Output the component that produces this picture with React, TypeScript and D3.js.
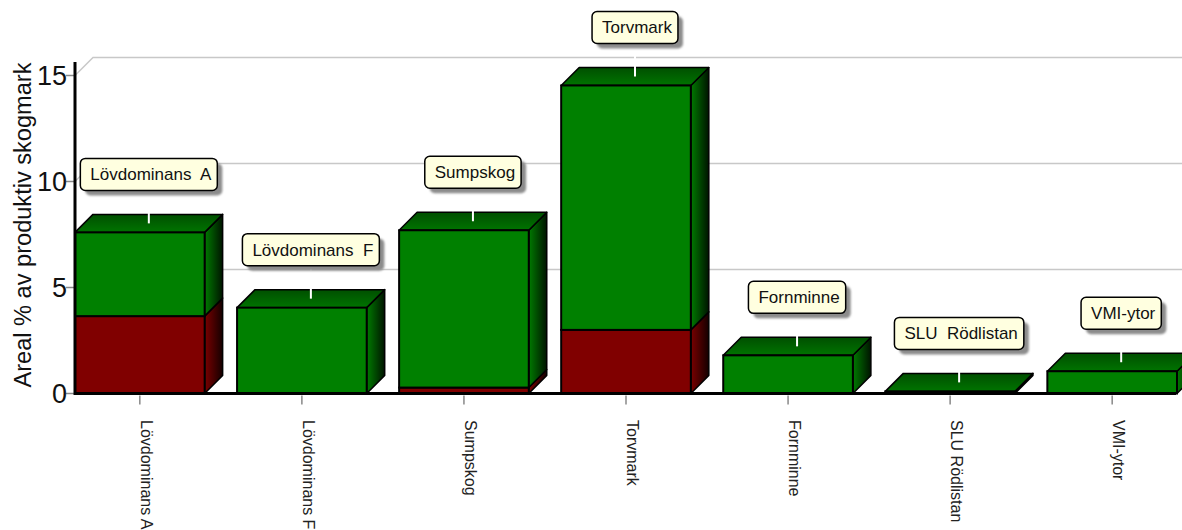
import React, { useEffect, useRef } from "react";
import * as d3 from "d3";

// categories and values
const categories = ["Lövdominans A", "Lövdominans F", "Sumpskog", "Torvmark", "Fornminne", "SLU Rödlistan", "VMI-ytor"];
const boxLabels = ["Lövdominans  A", "Lövdominans  F", "Sumpskog", "Torvmark", "Fornminne", "SLU  Rödlistan", "VMI-ytor"];
const redValues = [3.65, 0, 0.28, 3.0, 0, 0, 0];
const greenValues = [3.95, 4.05, 7.42, 11.53, 1.8, 0.1, 1.05];
const yTicks = [0, 5, 10, 15];

const App = () => {
  const ref = useRef<SVGSVGElement>(null);

  useEffect(() => {
    const svg = d3.select(ref.current);
    svg.selectAll("*").remove();

    const width = 1182;
    const depth = 18;
    const left = 75;

    const x = d3.scaleBand<string>().domain(categories).range([left, 1177]).paddingInner(0.2).paddingOuter(0);
    const y = d3.scaleLinear().domain([0, 15]).range([393.5, 75.5]);

    // gradients for the 3d faces
    const defs = svg.append("defs");
    const sideGrad = (id: string, from: string, to: string) => {
      const g = defs.append("linearGradient").attr("id", id).attr("x1", "0").attr("x2", "1").attr("y1", "0").attr("y2", "0");
      g.append("stop").attr("offset", "0").attr("stop-color", from);
      g.append("stop").attr("offset", "1").attr("stop-color", to);
    };
    sideGrad("sideGreen", "#007a00", "#001400");
    sideGrad("sideRed", "#7a0000", "#140000");
    const tg = defs.append("linearGradient").attr("id", "topGreen").attr("x1", "0").attr("x2", "0").attr("y1", "0").attr("y2", "1");
    tg.append("stop").attr("offset", "0").attr("stop-color", "#004f00");
    tg.append("stop").attr("offset", "1").attr("stop-color", "#007400");

    const shadow = defs.append("filter").attr("id", "blur").attr("x", "-10%").attr("y", "-10%").attr("width", "130%").attr("height", "140%");
    shadow.append("feGaussianBlur").attr("stdDeviation", 1);

    // back wall gridlines
    const grid = svg.append("g");
    yTicks.filter((t) => t > 0).forEach((t) => {
      grid.append("path")
        .attr("d", `M${left},${y(t)} L${left + depth},${y(t) - depth} L${width},${y(t) - depth}`)
        .attr("fill", "none")
        .attr("stroke", "#c8c8c8")
        .attr("stroke-width", 1.5);
    });

    // y axis ticks + labels
    const yAxis = svg.append("g");
    yTicks.forEach((t) => {
      yAxis.append("line")
        .attr("x1", left - 9).attr("x2", left).attr("y1", y(t)).attr("y2", y(t))
        .attr("stroke", "#888").attr("stroke-width", 1.5);
      yAxis.append("text")
        .attr("x", left - 8).attr("y", y(t)).attr("dy", "0.36em")
        .attr("text-anchor", "end")
        .attr("font-family", "Liberation Sans, Arial, sans-serif")
        .attr("font-size", 27)
        .attr("fill", "#111")
        .text(t);
    });

    svg.append("text")
      .attr("transform", `translate(31, 225) rotate(-90)`)
      .attr("text-anchor", "middle")
      .attr("font-family", "Liberation Sans, Arial, sans-serif")
      .attr("font-size", 23)
      .attr("textLength", 325)
      .attr("lengthAdjust", "spacingAndGlyphs")
      .attr("fill", "#111")
      .text("Areal % av produktiv skogmark");

    // bars
    const bars = svg.append("g");
    const drawSegment = (x0: number, w: number, v0: number, v1: number, front: string, side: string, top: boolean) => {
      const yT = y(v1);
      const yB = y(v0);
      const x1 = x0 + w;
      bars.append("path")
        .attr("d", `M${x1},${yT} L${x1 + depth},${yT - depth} L${x1 + depth},${yB - depth} L${x1},${yB} Z`)
        .attr("fill", side).attr("stroke", "#000").attr("stroke-width", 1.5).attr("stroke-linejoin", "round");
      if (top) {
        bars.append("path")
          .attr("d", `M${x0},${yT} L${x0 + depth},${yT - depth} L${x1 + depth},${yT - depth} L${x1},${yT} Z`)
          .attr("fill", "url(#topGreen)").attr("stroke", "#000").attr("stroke-width", 1.5).attr("stroke-linejoin", "round");
      }
      bars.append("rect")
        .attr("x", x0).attr("y", yT).attr("width", w).attr("height", Math.max(0, yB - yT))
        .attr("fill", front).attr("stroke", "#000").attr("stroke-width", 2);
    };

    categories.forEach((c, i) => {
      const x0 = x(c)!;
      const w = x.bandwidth();
      const r = redValues[i];
      const g = greenValues[i];
      if (r > 0) drawSegment(x0, w, 0, r, "#800000", "url(#sideRed)", false);
      drawSegment(x0, w, r, r + g, "#008000", "url(#sideGreen)", true);
    });

    // axis lines
    svg.append("line").attr("x1", left).attr("x2", left).attr("y1", 62).attr("y2", y(0) + 1.5)
      .attr("stroke", "#000").attr("stroke-width", 3);
    svg.append("line").attr("x1", left).attr("x2", 1176).attr("y1", y(0)).attr("y2", y(0))
      .attr("stroke", "#000").attr("stroke-width", 3);

    // x ticks + rotated labels
    const xAxis = svg.append("g");
    categories.forEach((c) => {
      const cx = x(c)! + x.bandwidth() / 2;
      xAxis.append("line").attr("x1", cx).attr("x2", cx).attr("y1", y(0) + 2).attr("y2", y(0) + 11)
        .attr("stroke", "#888").attr("stroke-width", 1.5);
      xAxis.append("text")
        .attr("transform", `translate(${cx + 1}, 420) rotate(90)`)
        .attr("font-family", "Liberation Sans, Arial, sans-serif")
        .attr("font-size", 16)
        .attr("fill", "#222")
        .text(c);
    });

    // leader lines and label boxes
    const labels = svg.append("g");
    categories.forEach((c, i) => {
      const cx = x(c)! + x.bandwidth() / 2 + depth / 2;
      const backTop = y(redValues[i] + greenValues[i]) - depth;
      const boxBottom = backTop - 24;
      labels.append("line")
        .attr("x1", cx).attr("x2", cx).attr("y1", boxBottom).attr("y2", backTop + 9)
        .attr("stroke", "#fff").attr("stroke-width", 2);

      const gBox = labels.append("g");
      const txt = gBox.append("text")
        .attr("font-family", "Liberation Sans, Arial, sans-serif")
        .attr("font-size", 17)
        .attr("fill", "#111")
        .style("white-space", "pre")
        .text(boxLabels[i]);
      const tw = (txt.node() as SVGTextElement).getComputedTextLength();
      const bw = tw + 16;
      const bh = 32;
      const bx = cx - bw / 2;
      const by = boxBottom - bh;
      gBox.insert("rect", "text")
        .attr("x", bx + 5).attr("y", by + 5).attr("width", bw).attr("height", bh).attr("rx", 5)
        .attr("fill", "#8c8c8c").attr("filter", "url(#blur)");
      gBox.insert("rect", "text")
        .attr("x", bx).attr("y", by).attr("width", bw).attr("height", bh).attr("rx", 5)
        .attr("fill", "#ffffe0").attr("stroke", "#000").attr("stroke-width", 1.5);
      txt.attr("x", bx + 10).attr("y", by + bh / 2 + 6);
    });
  }, []);

  return (
    <svg
      ref={ref}
      width={1182}
      height={530}
      style={{ position: "absolute", left: 0, top: 0, background: "#fff" }}
    />
  );
};

export default App;
